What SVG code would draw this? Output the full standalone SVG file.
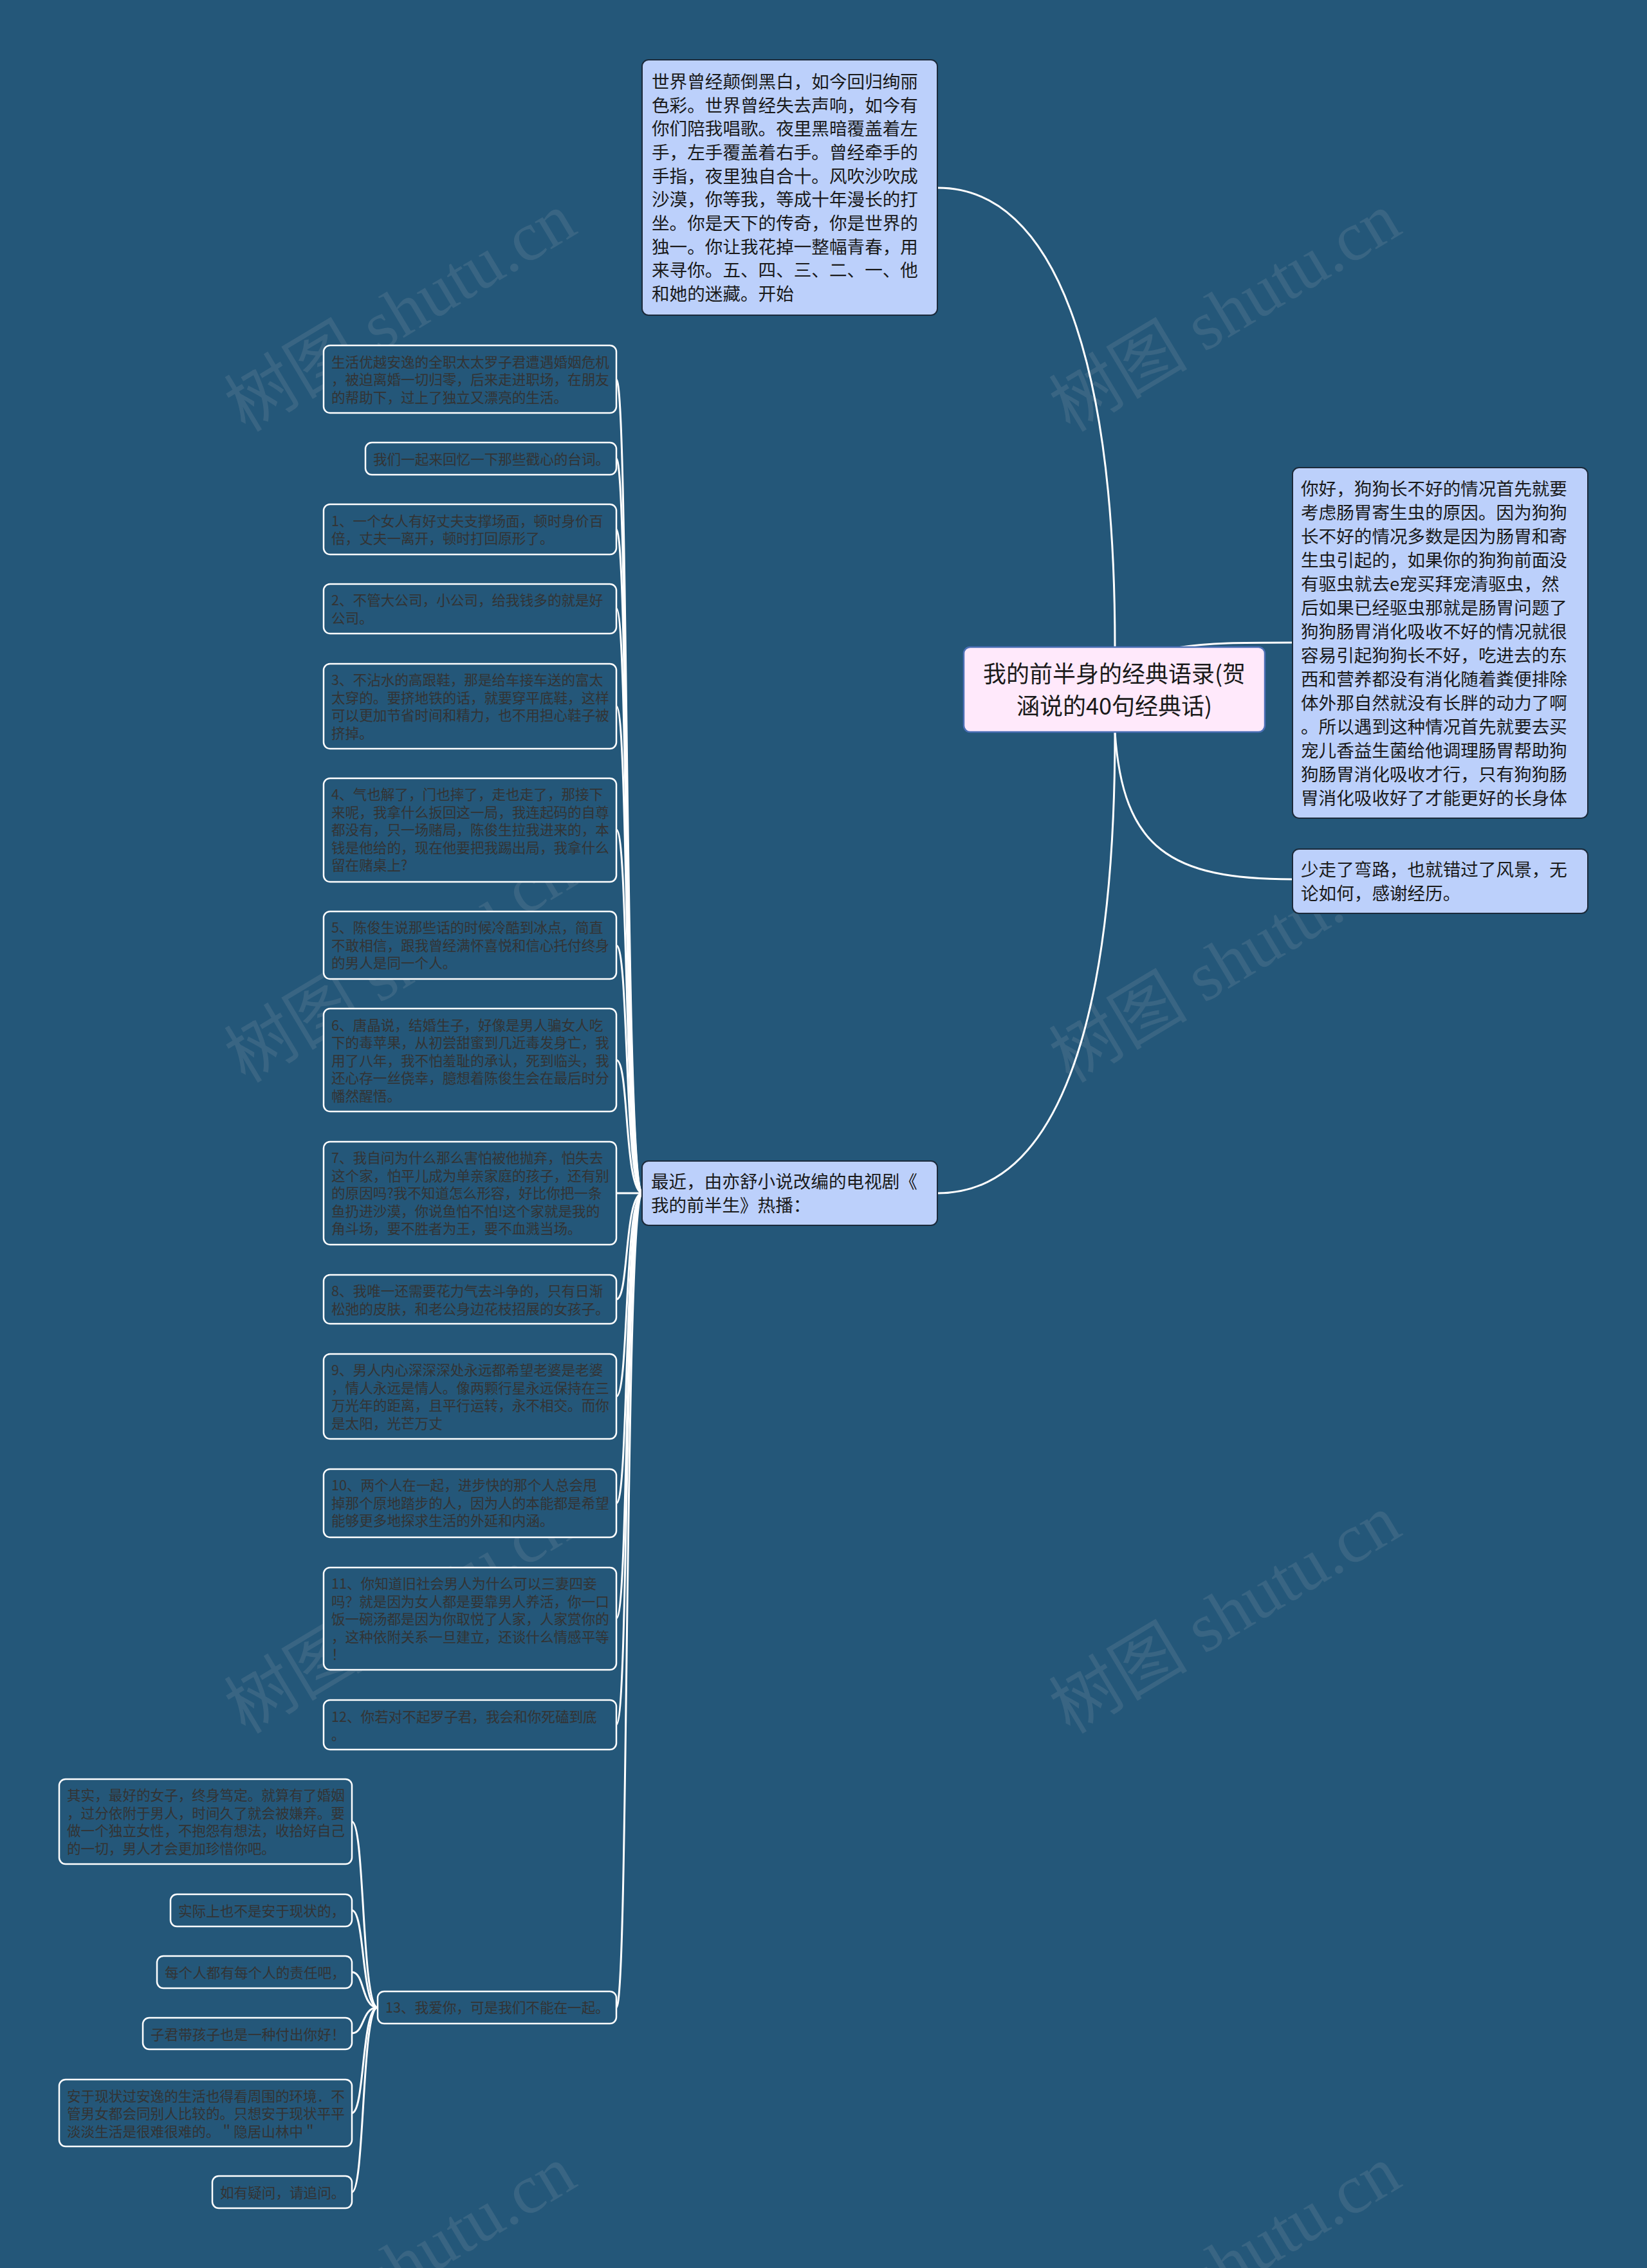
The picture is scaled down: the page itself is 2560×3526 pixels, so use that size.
<svg xmlns="http://www.w3.org/2000/svg" width="2560" height="3526" viewBox="0 0 2560 3526">
<style>
.bg{fill:#245779}
.wm{font-family:"Liberation Serif","Noto Sans CJK SC",serif;font-size:108px;fill:#c8c8c8;fill-opacity:0.13}
.lt{fill:#bcd0fb;stroke:#1b2a3a;stroke-width:2}
.root{fill:#ffe9fb;stroke:#4a6fb5;stroke-width:2.5}
.dk{fill:#245779;stroke:#ffffff;stroke-width:2.5}
.t28{font-family:"Noto Sans CJK SC","Microsoft YaHei",sans-serif;font-size:27.6px;fill:#1a1a1a}
.t36{font-family:"Noto Sans CJK SC","Microsoft YaHei",sans-serif;font-size:36px;fill:#1a1a1a}
.t22{font-family:"Noto Sans CJK SC","Microsoft YaHei",sans-serif;font-size:21.6px;fill:#333333}
.ln{fill:none;stroke:#ffffff;stroke-width:3;stroke-linecap:round}
</style>
<rect class="bg" x="0" y="0" width="2560" height="3526"/>
<g id="watermarks">
<text class="wm" transform="translate(641 517) rotate(-31)" text-anchor="middle">树图 shutu.cn</text>
<text class="wm" transform="translate(1923 517) rotate(-31)" text-anchor="middle">树图 shutu.cn</text>
<text class="wm" transform="translate(641 1529) rotate(-31)" text-anchor="middle">树图 shutu.cn</text>
<text class="wm" transform="translate(1923 1529) rotate(-31)" text-anchor="middle">树图 shutu.cn</text>
<text class="wm" transform="translate(641 2541) rotate(-31)" text-anchor="middle">树图 shutu.cn</text>
<text class="wm" transform="translate(1923 2541) rotate(-31)" text-anchor="middle">树图 shutu.cn</text>
<text class="wm" transform="translate(641 3553) rotate(-31)" text-anchor="middle">树图 shutu.cn</text>
<text class="wm" transform="translate(1923 3553) rotate(-31)" text-anchor="middle">树图 shutu.cn</text>
</g>
<g id="connectors">
<path class="ln" d="M1733 1006 C1733 560 1640 292 1458 292"/>
<path class="ln" d="M1733 1138 C1733 1600 1640 1855 1458 1855"/>
<path class="ln" d="M1830 1007 C1880 999 1930 999 2009 999"/>
<path class="ln" d="M1733 1138 C1745 1320 1820 1367 2009 1367"/>
<path class="ln" d="M958 590 C978 590 970 1855 999 1855"/>
<path class="ln" d="M958 713 C978 713 970 1855 999 1855"/>
<path class="ln" d="M958 823 C978 823 970 1855 999 1855"/>
<path class="ln" d="M958 946 C978 946 970 1855 999 1855"/>
<path class="ln" d="M958 1098 C978 1098 970 1855 999 1855"/>
<path class="ln" d="M958 1290 C978 1290 970 1855 999 1855"/>
<path class="ln" d="M958 1470 C978 1470 970 1855 999 1855"/>
<path class="ln" d="M958 1648 C978 1648 970 1855 999 1855"/>
<path class="ln" d="M958 1855 L999 1855"/>
<path class="ln" d="M958 2020 C978 2020 970 1855 999 1855"/>
<path class="ln" d="M958 2171 C978 2171 970 1855 999 1855"/>
<path class="ln" d="M958 2337 C978 2337 970 1855 999 1855"/>
<path class="ln" d="M958 2516 C978 2516 970 1855 999 1855"/>
<path class="ln" d="M958 2681 C978 2681 970 1855 999 1855"/>
<path class="ln" d="M958 3121 C978 3121 970 1855 999 1855"/>
<path class="ln" d="M547 2832 C567 2832 562 3121 587 3121"/>
<path class="ln" d="M547 2970 C567 2970 562 3121 587 3121"/>
<path class="ln" d="M547 3066 C567 3066 562 3121 587 3121"/>
<path class="ln" d="M547 3161 C567 3161 562 3121 587 3121"/>
<path class="ln" d="M547 3285 C567 3285 562 3121 587 3121"/>
<path class="ln" d="M547 3408 C567 3408 562 3121 587 3121"/>
</g>
<g id="node-top">
<rect class="lt" x="998" y="93" width="459" height="397" rx="10"/>
<text class="t28" x="1013" y="137">世界曾经颠倒黑白，如今回归绚丽</text>
<text class="t28" x="1013" y="174">色彩。世界曾经失去声响，如今有</text>
<text class="t28" x="1013" y="210">你们陪我唱歌。夜里黑暗覆盖着左</text>
<text class="t28" x="1013" y="247">手，左手覆盖着右手。曾经牵手的</text>
<text class="t28" x="1013" y="284">手指，夜里独自合十。风吹沙吹成</text>
<text class="t28" x="1013" y="320">沙漠，你等我，等成十年漫长的打</text>
<text class="t28" x="1013" y="357">坐。你是天下的传奇，你是世界的</text>
<text class="t28" x="1013" y="394">独一。你让我花掉一整幅青春，用</text>
<text class="t28" x="1013" y="430">来寻你。五、四、三、二、一、他</text>
<text class="t28" x="1013" y="467">和她的迷藏。开始</text>
</g>
<g id="node-root">
<rect class="root" x="1498" y="1006" width="468" height="132" rx="10"/>
<text class="t36" x="1732" y="1061" text-anchor="middle">我的前半身的经典语录(贺</text>
<text class="t36" x="1732" y="1111" text-anchor="middle">涵说的40句经典话)</text>
</g>
<g id="node-right">
<rect class="lt" x="2009" y="727" width="459" height="545" rx="10"/>
<text class="t28" x="2022" y="770">你好，狗狗长不好的情况首先就要</text>
<text class="t28" x="2022" y="807">考虑肠胃寄生虫的原因。因为狗狗</text>
<text class="t28" x="2022" y="844">长不好的情况多数是因为肠胃和寄</text>
<text class="t28" x="2022" y="881">生虫引起的，如果你的狗狗前面没</text>
<text class="t28" x="2022" y="918">有驱虫就去e宠买拜宠清驱虫，然</text>
<text class="t28" x="2022" y="955">后如果已经驱虫那就是肠胃问题了</text>
<text class="t28" x="2022" y="992">狗狗肠胃消化吸收不好的情况就很</text>
<text class="t28" x="2022" y="1029">容易引起狗狗长不好，吃进去的东</text>
<text class="t28" x="2022" y="1066">西和营养都没有消化随着粪便排除</text>
<text class="t28" x="2022" y="1103">体外那自然就没有长胖的动力了啊</text>
<text class="t28" x="2022" y="1140">。所以遇到这种情况首先就要去买</text>
<text class="t28" x="2022" y="1177">宠儿香益生菌给他调理肠胃帮助狗</text>
<text class="t28" x="2022" y="1214">狗肠胃消化吸收才行，只有狗狗肠</text>
<text class="t28" x="2022" y="1251">胃消化吸收好了才能更好的长身体</text>
</g>
<g id="node-right2">
<rect class="lt" x="2009" y="1320" width="459" height="100" rx="10"/>
<text class="t28" x="2022" y="1362">少走了弯路，也就错过了风景，无</text>
<text class="t28" x="2022" y="1399">论如何，感谢经历。</text>
</g>
<g id="node-mid">
<rect class="lt" x="998" y="1805" width="459" height="100" rx="10"/>
<text class="t28" x="1012" y="1847">最近，由亦舒小说改编的电视剧《</text>
<text class="t28" x="1012" y="1884">我的前半生》热播：</text>
</g>
<g id="node-a">
<rect class="dk" x="503" y="537" width="455" height="105" rx="10"/>
<text class="t22" x="515" y="571">生活优越安逸的全职太太罗子君遭遇婚姻危机</text>
<text class="t22" x="515" y="598">，被迫离婚一切归零，后来走进职场，在朋友</text>
<text class="t22" x="515" y="626">的帮助下，过上了独立又漂亮的生活。</text>
</g>
<g id="node-b">
<rect class="dk" x="568" y="688" width="390" height="50" rx="10"/>
<text class="t22" x="580" y="722">我们一起来回忆一下那些戳心的台词。</text>
</g>
<g id="node-c">
<rect class="dk" x="503" y="784" width="455" height="78" rx="10"/>
<text class="t22" x="515" y="818">1、一个女人有好丈夫支撑场面，顿时身价百</text>
<text class="t22" x="515" y="845">倍，丈夫一离开，顿时打回原形了。</text>
</g>
<g id="node-d">
<rect class="dk" x="503" y="908" width="455" height="77" rx="10"/>
<text class="t22" x="515" y="941">2、不管大公司，小公司，给我钱多的就是好</text>
<text class="t22" x="515" y="969">公司。</text>
</g>
<g id="node-e">
<rect class="dk" x="503" y="1032" width="455" height="132" rx="10"/>
<text class="t22" x="515" y="1065">3、不沾水的高跟鞋，那是给车接车送的富太</text>
<text class="t22" x="515" y="1093">太穿的。要挤地铁的话，就要穿平底鞋，这样</text>
<text class="t22" x="515" y="1120">可以更加节省时间和精力，也不用担心鞋子被</text>
<text class="t22" x="515" y="1148">挤掉。</text>
</g>
<g id="node-f">
<rect class="dk" x="503" y="1210" width="455" height="161" rx="10"/>
<text class="t22" x="515" y="1243">4、气也解了，门也摔了，走也走了，那接下</text>
<text class="t22" x="515" y="1271">来呢，我拿什么扳回这一局，我连起码的自尊</text>
<text class="t22" x="515" y="1298">都没有，只一场赌局，陈俊生拉我进来的，本</text>
<text class="t22" x="515" y="1326">钱是他给的，现在他要把我踢出局，我拿什么</text>
<text class="t22" x="515" y="1353">留在赌桌上?</text>
</g>
<g id="node-g">
<rect class="dk" x="503" y="1417" width="455" height="105" rx="10"/>
<text class="t22" x="515" y="1450">5、陈俊生说那些话的时候冷酷到冰点，简直</text>
<text class="t22" x="515" y="1478">不敢相信，跟我曾经满怀喜悦和信心托付终身</text>
<text class="t22" x="515" y="1505">的男人是同一个人。</text>
</g>
<g id="node-h">
<rect class="dk" x="503" y="1568" width="455" height="160" rx="10"/>
<text class="t22" x="515" y="1602">6、唐晶说，结婚生子，好像是男人骗女人吃</text>
<text class="t22" x="515" y="1629">下的毒苹果，从初尝甜蜜到几近毒发身亡，我</text>
<text class="t22" x="515" y="1657">用了八年，我不怕羞耻的承认，死到临头，我</text>
<text class="t22" x="515" y="1684">还心存一丝侥幸，臆想着陈俊生会在最后时分</text>
<text class="t22" x="515" y="1712">幡然醒悟。</text>
</g>
<g id="node-i">
<rect class="dk" x="503" y="1775" width="455" height="160" rx="10"/>
<text class="t22" x="515" y="1808">7、我自问为什么那么害怕被他抛弃，怕失去</text>
<text class="t22" x="515" y="1836">这个家，怕平儿成为单亲家庭的孩子，还有别</text>
<text class="t22" x="515" y="1863">的原因吗?我不知道怎么形容，好比你把一条</text>
<text class="t22" x="515" y="1891">鱼扔进沙漠，你说鱼怕不怕!这个家就是我的</text>
<text class="t22" x="515" y="1918">角斗场，要不胜者为王，要不血溅当场。</text>
</g>
<g id="node-j">
<rect class="dk" x="503" y="1982" width="455" height="76" rx="10"/>
<text class="t22" x="515" y="2015">8、我唯一还需要花力气去斗争的，只有日渐</text>
<text class="t22" x="515" y="2043">松弛的皮肤，和老公身边花枝招展的女孩子。</text>
</g>
<g id="node-k">
<rect class="dk" x="503" y="2105" width="455" height="132" rx="10"/>
<text class="t22" x="515" y="2138">9、男人内心深深深处永远都希望老婆是老婆</text>
<text class="t22" x="515" y="2166">，情人永远是情人。像两颗行星永远保持在三</text>
<text class="t22" x="515" y="2193">万光年的距离，且平行运转，永不相交。而你</text>
<text class="t22" x="515" y="2221">是太阳，光芒万丈</text>
</g>
<g id="node-l">
<rect class="dk" x="503" y="2284" width="455" height="106" rx="10"/>
<text class="t22" x="515" y="2317">10、两个人在一起，进步快的那个人总会甩</text>
<text class="t22" x="515" y="2345">掉那个原地踏步的人，因为人的本能都是希望</text>
<text class="t22" x="515" y="2372">能够更多地探求生活的外延和内涵。</text>
</g>
<g id="node-m">
<rect class="dk" x="503" y="2437" width="455" height="159" rx="10"/>
<text class="t22" x="515" y="2470">11、你知道旧社会男人为什么可以三妻四妾</text>
<text class="t22" x="515" y="2498">吗？就是因为女人都是要靠男人养活，你一口</text>
<text class="t22" x="515" y="2525">饭一碗汤都是因为你取悦了人家，人家赏你的</text>
<text class="t22" x="515" y="2553">，这种依附关系一旦建立，还谈什么情感平等</text>
<text class="t22" x="515" y="2580">！</text>
</g>
<g id="node-n">
<rect class="dk" x="503" y="2643" width="455" height="77" rx="10"/>
<text class="t22" x="515" y="2677">12、你若对不起罗子君，我会和你死磕到底</text>
<text class="t22" x="515" y="2705">。</text>
</g>
<g id="node-o">
<rect class="dk" x="587" y="3096" width="371" height="50" rx="10"/>
<text class="t22" x="599" y="3129">13、我爱你，可是我们不能在一起。</text>
</g>
<g id="node-p">
<rect class="dk" x="92" y="2766" width="455" height="132" rx="10"/>
<text class="t22" x="104" y="2799">其实，最好的女子，终身笃定。就算有了婚姻</text>
<text class="t22" x="104" y="2827">，过分依附于男人，时间久了就会被嫌弃。要</text>
<text class="t22" x="104" y="2854">做一个独立女性，不抱怨有想法，收拾好自己</text>
<text class="t22" x="104" y="2882">的一切，男人才会更加珍惜你吧。</text>
</g>
<g id="node-q">
<rect class="dk" x="265" y="2945" width="282" height="50" rx="10"/>
<text class="t22" x="277" y="2979">实际上也不是安于现状的，</text>
</g>
<g id="node-r">
<rect class="dk" x="244" y="3041" width="303" height="50" rx="10"/>
<text class="t22" x="256" y="3075">每个人都有每个人的责任吧，</text>
</g>
<g id="node-s">
<rect class="dk" x="222" y="3137" width="325" height="49" rx="10"/>
<text class="t22" x="234" y="3171">子君带孩子也是一种付出你好！</text>
</g>
<g id="node-t">
<rect class="dk" x="92" y="3233" width="455" height="104" rx="10"/>
<text class="t22" x="104" y="3267">安于现状过安逸的生活也得看周围的环境．不</text>
<text class="t22" x="104" y="3294">管男女都会同别人比较的。只想安于现状平平</text>
<text class="t22" x="104" y="3322">淡淡生活是很难很难的。＂隐居山林中＂</text>
</g>
<g id="node-u">
<rect class="dk" x="330" y="3383" width="217" height="50" rx="10"/>
<text class="t22" x="342" y="3417">如有疑问，请追问。</text>
</g>
</svg>
